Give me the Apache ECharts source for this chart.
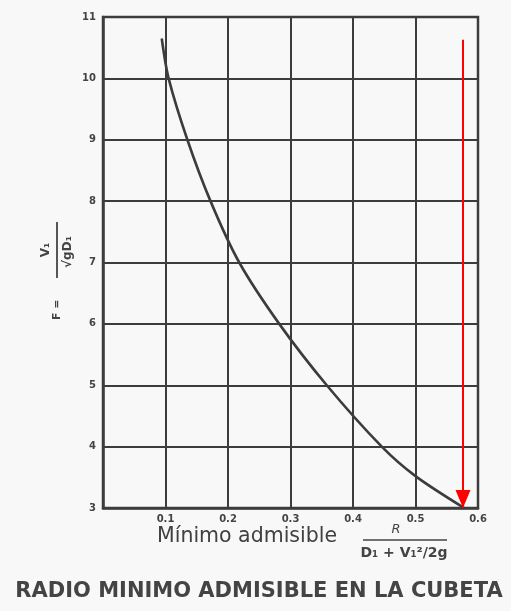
<!DOCTYPE html>
<html>
<head>
<meta charset="utf-8">
<script src="https://cdn.jsdelivr.net/npm/echarts@6/dist/echarts.min.js"></script>
<style>
  html, body { margin: 0; padding: 0; background: #f8f8f8; }
  #chart { width: 511px; height: 611px; }
</style>
</head>
<body>
<div id="chart"></div>
<script>
// Relative radius R / (D1 + V1^2/2g) on the x axis, Froude number F on the y axis
const radiusRatio = [0.094, 0.105, 0.135, 0.172, 0.218, 0.282, 0.358, 0.446, 0.500, 0.578];
const froude      = [10.65, 10.0,  9.0,   8.0,   7.0,   6.0,   5.0,   4.0,   3.52,  3.0];

// Red arrow marking the reading at the right end of the curve
const arrowX = [0.576, 0.576];
const arrowY = [10.63, 3.0];

const xTickLabels = ['0.1', '0.2', '0.3', '0.4', '0.5', '0.6'];
const yTickLabels = ['3', '4', '5', '6', '7', '8', '9', '10', '11'];

const ink = '#3c3c3c';

const curveData = radiusRatio.map((x, i) => [x, froude[i]]);
const arrowData = arrowX.map((x, i) => ({
  value: [x, arrowY[i]],
  symbol: i === arrowX.length - 1 ? 'triangle' : 'none'
}));

const chart = echarts.init(document.getElementById('chart'), null, { renderer: 'canvas' });

chart.setOption({
  backgroundColor: '#f8f8f8',
  animation: false,
  grid: {
    left: 103, right: 33, top: 17, bottom: 103,
    show: true, borderColor: ink, borderWidth: 2.5, backgroundColor: 'transparent'
  },
  xAxis: {
    type: 'value', min: 0, max: 0.6, interval: 0.1,
    axisLine: { show: true, lineStyle: { color: ink, width: 2.5 } },
    axisTick: { show: false },
    splitLine: { show: true, lineStyle: { color: ink, width: 2 } },
    axisLabel: {
      margin: 6, color: '#444', fontSize: 10, fontWeight: 'bold', fontFamily: 'DejaVu Sans',
      formatter: v => {
        const i = Math.round(v * 10) - 1;
        return i >= 0 ? xTickLabels[i] : '';
      }
    }
  },
  yAxis: {
    type: 'value', min: 3, max: 11, interval: 1,
    axisLine: { show: true, lineStyle: { color: ink, width: 2.5 } },
    axisTick: { show: false },
    splitLine: { show: true, lineStyle: { color: ink, width: 2 } },
    axisLabel: {
      margin: 7, color: '#444', fontSize: 10, fontWeight: 'bold', fontFamily: 'DejaVu Sans',
      formatter: v => yTickLabels[Math.round(v) - 3]
    }
  },
  series: [
    {
      type: 'line',
      data: curveData,
      smooth: 0.3,
      showSymbol: false,
      lineStyle: { color: ink, width: 2.6 },
      z: 3
    },
    {
      type: 'line',
      data: arrowData,
      symbolSize: [15, 18],
      symbolRotate: 180,
      symbolOffset: [0, -9],
      itemStyle: { color: '#ff0000' },
      lineStyle: { color: '#ff0000', width: 2 },
      z: 4
    }
  ],
  graphic: [
    // x axis name
    {
      type: 'text', left: 157, top: 526,
      style: { text: 'Mínimo admisible', font: '20.5px "DejaVu Sans"', fill: '#404040' }
    },
    {
      type: 'text', x: 396, y: 530,
      style: { text: 'R', font: 'italic 13px "DejaVu Sans"', fill: '#444', align: 'center', verticalAlign: 'middle' }
    },
    {
      type: 'line', shape: { x1: 363, y1: 540, x2: 447, y2: 540 },
      style: { stroke: '#444', lineWidth: 1.5 }
    },
    {
      type: 'text', x: 404, y: 553,
      style: { text: 'D₁ + V₁²/2g', font: 'bold 14px "DejaVu Sans"', fill: '#444', align: 'center', verticalAlign: 'middle' }
    },
    // y axis name, written sideways
    {
      type: 'group', x: 57, y: 270, rotation: Math.PI / 2,
      children: [
        {
          type: 'text', x: -50, y: 0,
          style: { text: 'F =', font: 'bold 11px "DejaVu Sans"', fill: '#444', align: 'left', verticalAlign: 'middle' }
        },
        {
          type: 'text', x: 20, y: -11,
          style: { text: 'V₁', font: 'bold 12px "DejaVu Sans"', fill: '#444', align: 'center', verticalAlign: 'middle' }
        },
        {
          type: 'line', shape: { x1: -8, y1: 0, x2: 48, y2: 0 },
          style: { stroke: '#444', lineWidth: 1.8 }
        },
        {
          type: 'text', x: 18, y: 11,
          style: { text: '√gD₁', font: 'bold 12px "DejaVu Sans"', fill: '#444', align: 'center', verticalAlign: 'middle' }
        }
      ]
    },
    // caption
    {
      type: 'text', x: 259, y: 592,
      style: { text: 'RADIO MINIMO ADMISIBLE EN LA CUBETA', font: 'bold 21px "DejaVu Sans"', fill: '#444', align: 'center', verticalAlign: 'middle' }
    }
  ]
});
</script>
</body>
</html>
